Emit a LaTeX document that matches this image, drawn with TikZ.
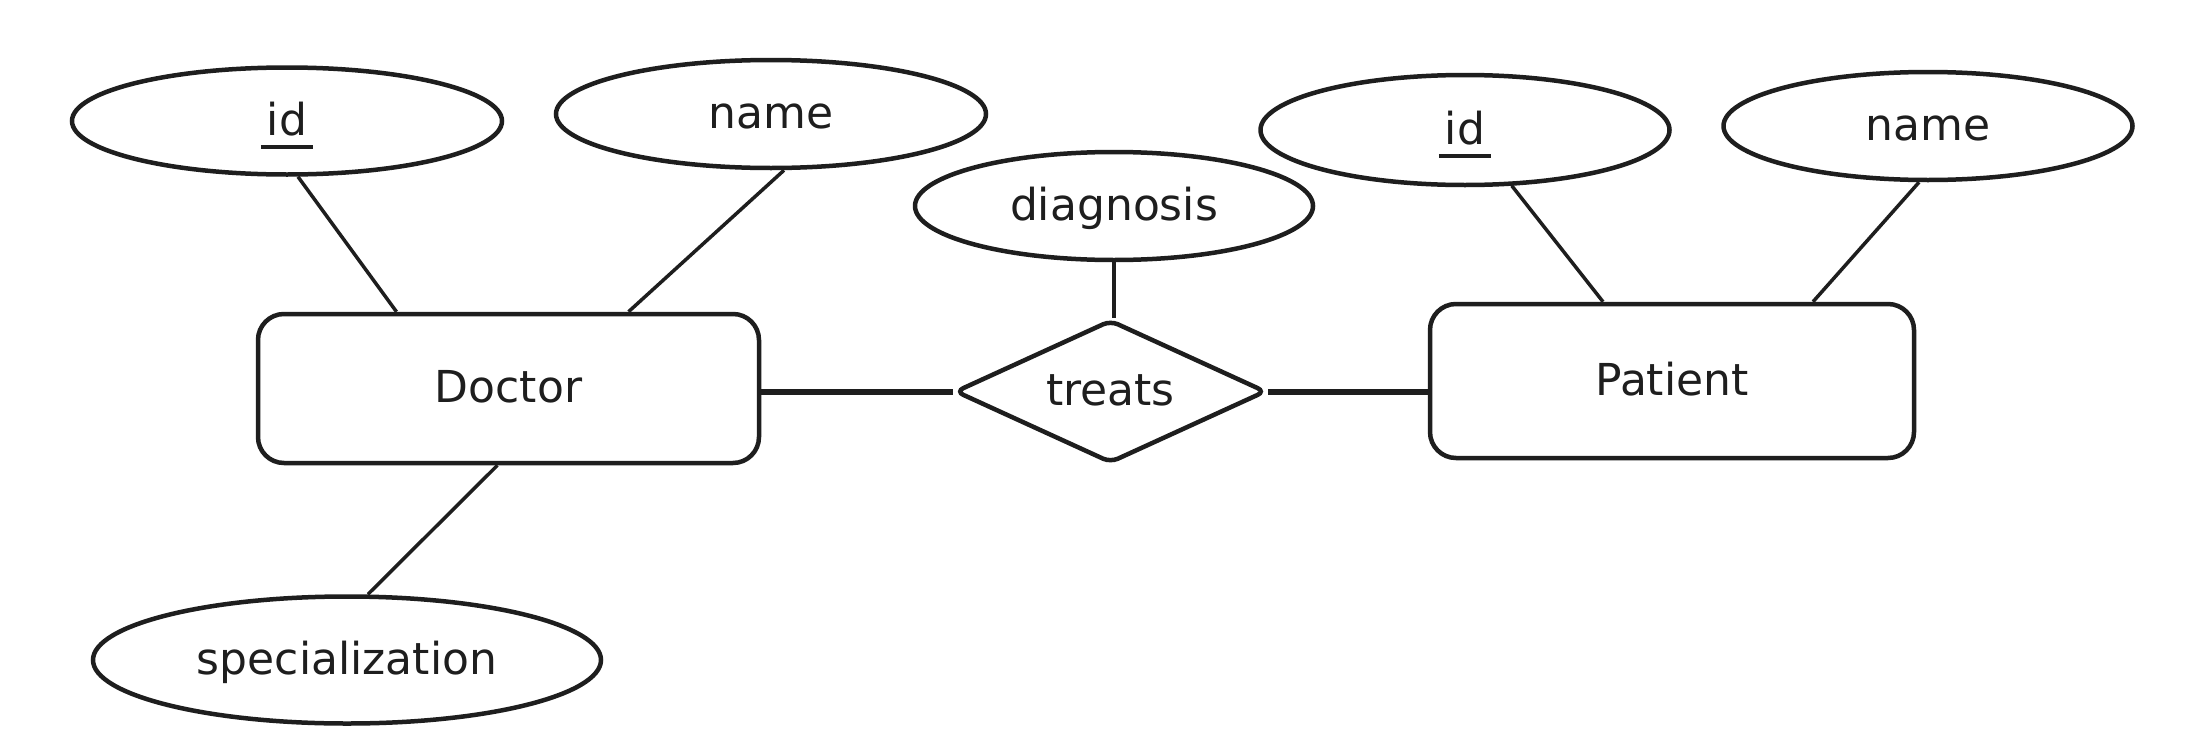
\documentclass[tikz,border=0pt]{standalone}
\usepackage{fontspec}
\setmainfont{DejaVu Sans}
\usetikzlibrary{shapes.geometric,calc}
\definecolor{ink}{HTML}{1E1E1E}
\newsavebox\keybox
\newcommand\keyattr[1]{\sbox\keybox{#1}\rlap{\kern-6pt\raisebox{-14pt}[0pt][0pt]{\rule{\dimexpr\wd\keybox+12pt\relax}{4pt}}}\usebox\keybox}
\begin{document}
\begin{tikzpicture}[x=1pt,y=-1pt,
  every node/.style={font=\fontsize{44}{50}\selectfont, text=ink, text height=34pt, text depth=6pt, inner sep=0pt},
  attr/.style={ellipse, draw=ink, line width=4.5pt},
  ent/.style={rectangle, rounded corners=26pt, draw=ink, line width=4.5pt},
  rel/.style={diamond, aspect=2.2, draw=ink, line width=4.5pt, rounded corners=8pt},
  link/.style={draw=ink, line width=3.5pt},
  blink/.style={draw=ink, line width=6pt}]
\useasboundingbox[fill=white] (0,0) rectangle (2196,755);

% entities
\node[ent, minimum width=501pt, minimum height=149pt] (doc) at (508.5,388.5) {Doctor};
\node[ent, minimum width=484pt, minimum height=154pt] (pat) at (1672,381) {Patient};
% relationship
\node[rel, minimum width=311pt, minimum height=143pt] (treats) at (1110.5,391.5) {treats};
% attributes
\node[attr, minimum width=430pt, minimum height=107pt] (idD) at (287,121) {\keyattr{id}};
\node[attr, minimum width=430pt, minimum height=108pt] (nameD) at (771,114) {name};
\node[attr, minimum width=398pt, minimum height=108pt] (diag) at (1114,206) {diagnosis};
\node[attr, minimum width=409pt, minimum height=110pt] (idP) at (1465,130) {\keyattr{id}};
\node[attr, minimum width=409pt, minimum height=108pt] (nameP) at (1928,126) {name};
\node[attr, minimum width=508pt, minimum height=127pt] (spec) at (347,660) {specialization};

% connectors
\path[link] ([xshift=11pt]idD.south) -- ([xshift=-112pt]doc.north);
\path[link] ([xshift=13pt]nameD.south) -- ([xshift=120pt]doc.north);
\path[link] (diag.south) -- (diag.south |- treats.north);
\path[link] (idP.-50) -- ([xshift=-69pt]pat.north);
\path[link] ([xshift=-9pt]nameP.south) -- ([xshift=141pt]pat.north);
\path[link] ([xshift=-11pt]doc.south) -- ([xshift=21pt]spec.north);
\path[blink] (doc.east |- treats.west) -- (treats.west);
\path[blink] (treats.east) -- (treats.east -| pat.west);
\end{tikzpicture}
\end{document}
